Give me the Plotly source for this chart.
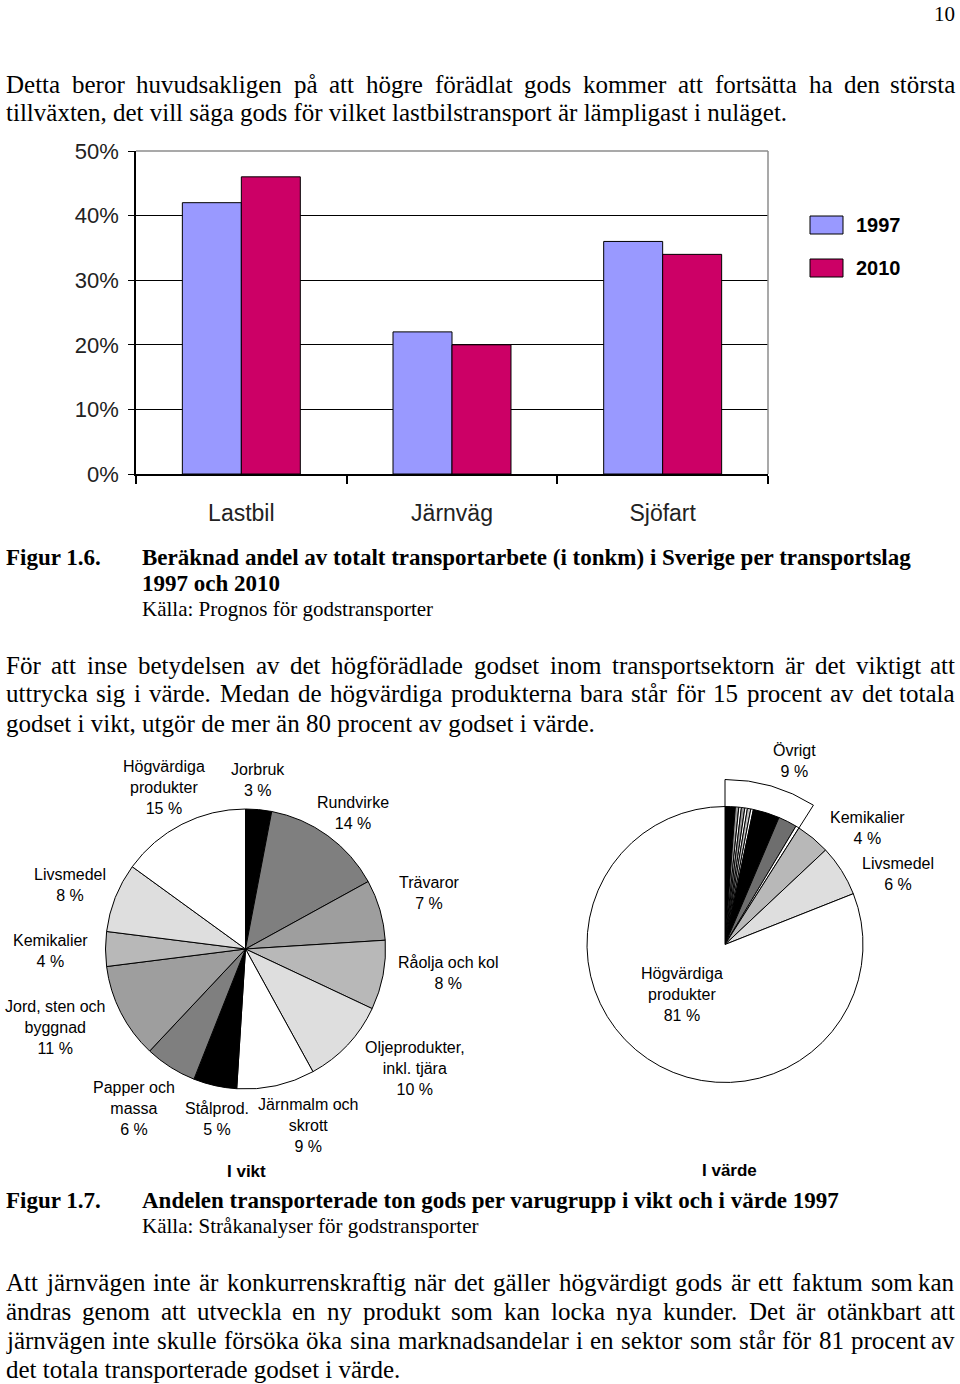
import plotly.graph_objects as go

W, H = 960, 1384

# ---------------- data ----------------
transport_modes = ["Lastbil", "Järnväg", "Sjöfart"]
share_1997 = [0.42, 0.22, 0.36]
share_2010 = [0.46, 0.20, 0.34]
y_tick_vals = [0, 0.1, 0.2, 0.3, 0.4, 0.5]
y_tick_text = ["0%", "10%", "20%", "30%", "40%", "50%"]
series_names = ["1997", "2010"]

weight_groups = ["Jorbruk", "Rundvirke", "Trävaror", "Råolja och kol",
                 "Oljeprodukter,<br>inkl. tjära", "Järnmalm och<br>skrott",
                 "Stålprod.", "Papper och<br>massa", "Jord, sten och<br>byggnad",
                 "Kemikalier", "Livsmedel", "Högvärdiga<br>produkter"]
weight_pct = [3, 14, 7, 8, 10, 9, 5, 6, 11, 4, 8, 15]

value_groups = ["Övrigt", "Kemikalier", "Livsmedel", "Högvärdiga<br>produkter"]
value_pct = [9, 4, 6, 81]
# sub-slices drawn inside the "Övrigt" sector
ovrigt_parts = [1.2, 0.4, 0.3, 0.4, 0.3, 0.4, 0.3, 3.1, 2.2, 0.4]

# ---------------- styles ----------------
C1997 = "#9999ff"
C2010 = "#cc0066"
SANS = "Liberation Sans, Arial, sans-serif"
SERIF = "Liberation Serif, Times New Roman, serif"

weight_colors = ["#000000", "#7f7f7f", "#9e9e9e", "#b8b8b8", "#dedede", "#ffffff",
                 "#000000", "#7f7f7f", "#9e9e9e", "#b8b8b8", "#dedede", "#ffffff"]
ovrigt_colors = ["#000000", "#9a9a9a", "#ffffff", "#9a9a9a", "#ffffff", "#c0c0c0",
                 "#ffffff", "#000000", "#6e6e6e", "#ffffff"]
value_rest_colors = ["#b8b8b8", "#dedede", "#ffffff"]


def px(x):
    return x / W


def py(y):
    return 1 - y / H


annotations = []
shapes = []


def ann(x, y, text, size, family, bold=False, xanchor="left", yanchor="middle",
        align="left", color="black"):
    if bold:
        text = f"<b>{text}</b>"
    annotations.append(dict(x=px(x), y=py(y), xref="paper", yref="paper", text=text,
                            showarrow=False, xanchor=xanchor, yanchor=yanchor,
                            align=align, borderpad=0,
                            font=dict(size=size, family=family, color=color)))


TIMES_W = {' ': 250, '!': 333, '(': 333, ')': 333, ',': 250, '-': 333, '.': 250,
           ':': 278, ';': 278, '%': 833}
for d in "0123456789":
    TIMES_W[d] = 500
TIMES_W.update({'A': 722, 'B': 667, 'C': 667, 'D': 722, 'E': 611, 'F': 556, 'G': 722,
                'H': 722, 'I': 333, 'J': 389, 'K': 722, 'L': 611, 'M': 889, 'N': 722,
                'O': 722, 'P': 556, 'Q': 722, 'R': 667, 'S': 556, 'T': 611, 'U': 722,
                'V': 722, 'W': 944, 'X': 722, 'Y': 722, 'Z': 611,
                'a': 444, 'b': 500, 'c': 444, 'd': 500, 'e': 444, 'f': 333, 'g': 500,
                'h': 500, 'i': 278, 'j': 278, 'k': 500, 'l': 278, 'm': 778, 'n': 500,
                'o': 500, 'p': 500, 'q': 500, 'r': 333, 's': 389, 't': 278, 'u': 500,
                'v': 500, 'w': 722, 'x': 500, 'y': 500, 'z': 444,
                'å': 444, 'ä': 444, 'ö': 500, 'é': 444, 'Å': 722, 'Ä': 722, 'Ö': 722})


def text_w(s, size):
    return sum(TIMES_W.get(c, 500) for c in s) / 1000 * size


BODY = 25
LEFT, RIGHT = 5, 956


def body_line(text, y, justify):
    if not justify:
        ann(LEFT, y, text, BODY, SERIF)
        return
    words = text.split(" ")
    widths = [text_w(w, BODY) for w in words]
    gap = (RIGHT - LEFT - sum(widths)) / (len(words) - 1)
    gap = max(gap, 0.15 * BODY)
    x = LEFT
    for i, (w, wd) in enumerate(zip(words, widths)):
        if i == len(words) - 1:
            ann(RIGHT, y, w, BODY, SERIF, xanchor="right")
        else:
            ann(x, y, w, BODY, SERIF)
        x += wd + gap


# page number
ann(956, 1, "10", 21, SERIF, xanchor="right", yanchor="top")

# paragraph 1
body_line("Detta beror huvudsakligen på att högre förädlat gods kommer att fortsätta ha den största", 84, True)
body_line("tillväxten, det vill säga gods för vilket lastbilstransport är lämpligast i nuläget.", 113, False)

# caption 1.6
CAP = 21
CAPB = 23
ann(5, 557, "Figur 1.6.", CAPB, SERIF, bold=True)
ann(141, 557, "Beräknad andel av totalt transportarbete (i tonkm) i Sverige per transportslag", CAPB, SERIF, bold=True)
ann(141, 583, "1997 och 2010", CAPB, SERIF, bold=True)
ann(141, 609, "Källa: Prognos för godstransporter", CAP, SERIF)

# paragraph 2
body_line("För att inse betydelsen av det högförädlade godset inom transportsektorn är det viktigt att", 665, True)
body_line("uttrycka sig i värde. Medan de högvärdiga produkterna bara står för 15 procent av det totala", 694, True)
body_line("godset i vikt, utgör de mer än 80 procent av godset i värde.", 723, False)

# caption 1.7
ann(5, 1200, "Figur 1.7.", CAPB, SERIF, bold=True)
ann(141, 1200, "Andelen transporterade ton gods per varugrupp i vikt och i värde 1997", CAPB, SERIF, bold=True)
ann(141, 1226, "Källa: Stråkanalyser för godstransporter", CAP, SERIF)

# paragraph 3
body_line("Att järnvägen inte är konkurrenskraftig när det gäller högvärdigt gods är ett faktum som kan", 1282, True)
body_line("ändras genom att utveckla en ny produkt som kan locka nya kunder. Det är otänkbart att", 1311, True)
body_line("järnvägen inte skulle försöka öka sina marknadsandelar i en sektor som står för 81 procent av", 1340, True)
body_line("det totala transporterade godset i värde.", 1369, False)

fig = go.Figure()

# ---------------- bar chart ----------------
for name, vals, col in zip(series_names, [share_1997, share_2010], [C1997, C2010]):
    fig.add_trace(go.Bar(x=transport_modes, y=vals, name=name,
                         marker=dict(color=col, line=dict(color="black", width=1)),
                         xaxis="x", yaxis="y", showlegend=False))

PLOT_L, PLOT_R, PLOT_T, PLOT_B = 136, 768, 151, 474

# gray top/right frame of the plot area
shapes.append(dict(type="line", xref="x domain", yref="y domain", x0=0, x1=1, y0=1, y1=1,
                   line=dict(color="#8c8c8c", width=1.5), layer="above"))
shapes.append(dict(type="line", xref="x domain", yref="y domain", x0=1, x1=1, y0=0, y1=1,
                   line=dict(color="#8c8c8c", width=1.5), layer="above"))

# legend swatches
for i, (name, col) in enumerate(zip(series_names, [C1997, C2010])):
    yc = 225 + 43 * i
    shapes.append(dict(type="rect", xref="paper", yref="paper",
                       x0=px(810), x1=px(843), y0=py(yc - 9), y1=py(yc + 9),
                       fillcolor=col, line=dict(color="black", width=1)))
    ann(855, yc, name, 20, SANS, bold=True)

# ---------------- pie charts ----------------
LABEL_SIZE = 16
VIKT_C, VIKT_R = (245.5, 949), 140
VARDE_C, VARDE_R = (725, 944.5), 138
OVRIGT_R = 165


def pie_domain(c, r):
    return dict(x=[px(c[0] - r), px(c[0] + r)], y=[py(c[1] + r), py(c[1] - r)])


fig.add_trace(go.Pie(labels=[g.replace("<br>", " ") for g in weight_groups], values=weight_pct,
                     sort=False, direction="clockwise", rotation=0,
                     marker=dict(colors=weight_colors, line=dict(color="black", width=1)),
                     textinfo="none", domain=pie_domain(VIKT_C, VIKT_R), showlegend=False,
                     hoverinfo="label+percent"))

# exploded outline of the "Övrigt" sector
fig.add_trace(go.Pie(labels=["Övrigt", "resten"], values=[value_pct[0], sum(value_pct[1:])],
                     sort=False, direction="clockwise", rotation=0,
                     marker=dict(colors=["#ffffff", "rgba(0,0,0,0)"],
                                 line=dict(color="black", width=[1, 0])),
                     textinfo="none", domain=pie_domain(VARDE_C, OVRIGT_R), showlegend=False,
                     hoverinfo="skip"))

value_slices = ovrigt_parts + value_pct[1:]
value_slice_labels = [f"Övrigt {i + 1}" for i in range(len(ovrigt_parts))] + \
                     [g.replace("<br>", " ") for g in value_groups[1:]]
fig.add_trace(go.Pie(labels=value_slice_labels, values=value_slices,
                     sort=False, direction="clockwise", rotation=0,
                     marker=dict(colors=ovrigt_colors + value_rest_colors,
                                 line=dict(color="black", width=1)),
                     textinfo="none", domain=pie_domain(VARDE_C, VARDE_R), showlegend=False,
                     hoverinfo="label+value"))

# pie labels
weight_label_pos = [(258, 780), (353, 813), (429, 893), (448, 973), (415, 1068), (308, 1125),
                    (217, 1119), (134, 1108), (55, 1027), (50, 951), (70, 885), (164, 787)]
for g, v, (x, y) in zip(weight_groups, weight_pct, weight_label_pos):
    ann(x, y, f"{g}<br>{v} %", LABEL_SIZE, SANS, xanchor="center", align="center")

value_label_pos = [(794, 761), (867, 828), (898, 874), (682, 994)]
for g, v, (x, y) in zip(value_groups, value_pct, value_label_pos):
    ann(x, y, f"{g}<br>{v} %", LABEL_SIZE, SANS, xanchor="center", align="center")

ann(247, 1171, "I vikt", 17, SANS, bold=True, xanchor="center")
ann(729, 1170, "I värde", 17, SANS, bold=True, xanchor="center")

fig.update_layout(
    width=W, height=H, margin=dict(l=0, r=0, t=0, b=0, pad=0, autoexpand=False),
    paper_bgcolor="white", plot_bgcolor="white", showlegend=False,
    barmode="group", bargap=0.44, bargroupgap=0,
    xaxis=dict(domain=[px(PLOT_L), px(PLOT_R)], anchor="y", showline=True, linecolor="black",
               linewidth=1.5, ticks="outside", tickson="boundaries", ticklen=8,
               tickcolor="black", tickwidth=1.5, showgrid=False, fixedrange=True,
               automargin=False,
               ticklabelstandoff=18, tickfont=dict(size=23, family=SANS, color="#222")),
    yaxis=dict(domain=[py(PLOT_B), py(PLOT_T)], anchor="x", range=[0, 0.5],
               tickvals=y_tick_vals, ticktext=y_tick_text, showgrid=True, gridcolor="black",
               gridwidth=1, showline=True, linecolor="black", linewidth=1.5, zeroline=False,
               ticks="outside", ticklen=6, tickcolor="black", ticklabelstandoff=5,
               automargin=False,
               tickfont=dict(size=22, family=SANS, color="#222"), fixedrange=True),
    annotations=annotations, shapes=shapes,
)

# place the figure exactly at the page's top-left corner (no body margin)
pin_js = ("document.documentElement.style.margin='0';document.body.style.margin='0';"
          "document.body.style.padding='0';document.body.style.overflow='hidden';"
          "var d=document.getElementById('{plot_id}');d.style.position='fixed';"
          "d.style.left='0px';d.style.top='0px';")

fig.write_html("out.html", post_script=pin_js, config={"displayModeBar": False})
